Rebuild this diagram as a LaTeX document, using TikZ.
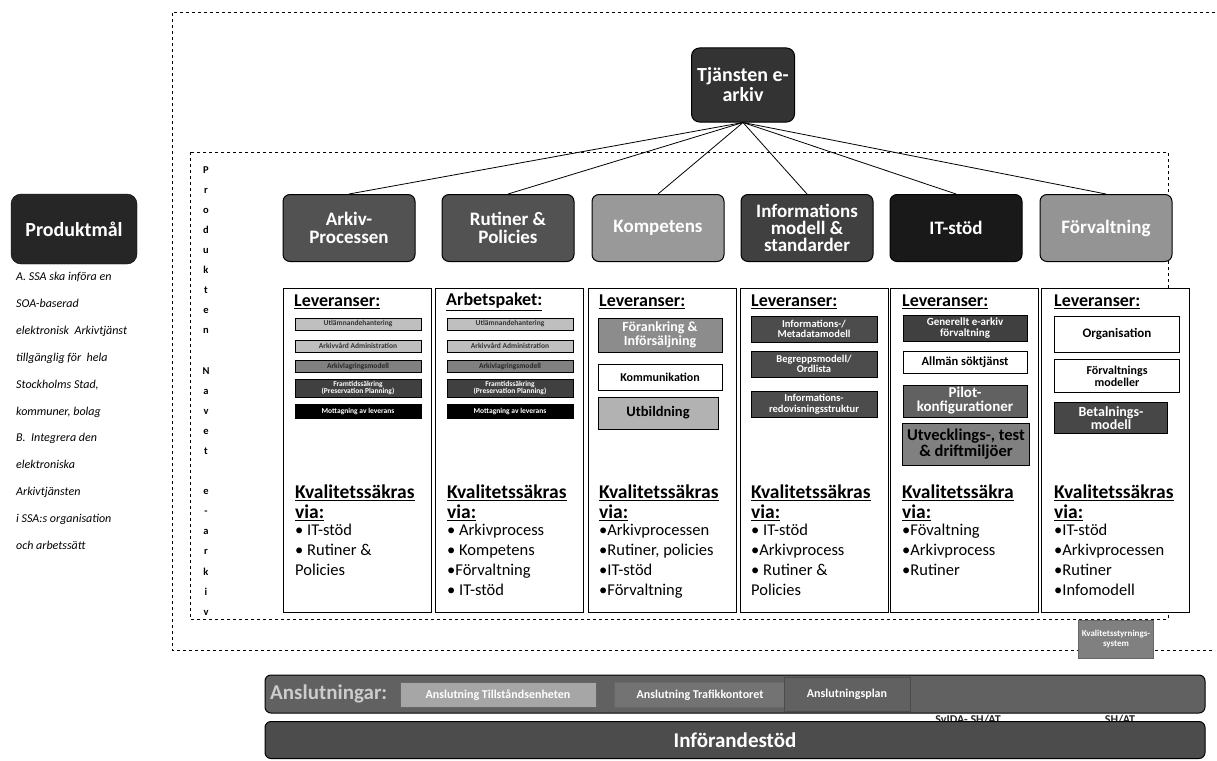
\documentclass[tikz,border=0pt]{standalone}
\usepackage{fontspec}
\setmainfont{Carlito}
\begin{document}
\begin{tikzpicture}[x=1pt,y=-1pt,
  hdr/.style={rounded corners=7pt, draw=black, line width=1pt, minimum width=132pt, minimum height=67pt, align=center, text=white, inner sep=2pt, font=\bfseries\fontsize{19}{18.5}\selectfont},
  colbox/.style={draw=black, line width=1pt, fill=white, minimum width=148pt, minimum height=324pt, anchor=north west},
  sb/.style={draw=black, line width=0.6pt, minimum width=126pt, align=center, inner sep=1pt, font=\bfseries\fontsize{7.5}{7.5}\selectfont},
  mb/.style={draw=black, line width=0.8pt, minimum width=124pt, align=center, inner sep=1pt},
  lev/.style={anchor=west, inner sep=0pt, font=\bfseries\fontsize{18}{18}\selectfont},
  kv/.style={anchor=north west, inner sep=0pt, align=left, font=\bfseries\fontsize{19.5}{20}\selectfont},
  lst/.style={anchor=north west, inner sep=0pt, align=left, font=\fontsize{16.5}{20}\selectfont},
  conn/.style={draw=black, line width=0.8pt},
  dashframe/.style={draw=black, line width=0.9pt, dashed}
]
\useasboundingbox[fill=white] (0,0) rectangle (1217,760);

% outer and inner dashed frames
\draw[dashframe] (1215,12) -- (172,12) -- (172,650) -- (1215,650);
\draw[dashframe] (190,152) rectangle (1168,619);

% left side
\node[rounded corners=10pt, draw=black, fill=black!85, minimum width=126pt, minimum height=70pt, text=white, font=\bfseries\fontsize{20}{20}\selectfont] (pm) at (74,229) {Produktmål};
\node[anchor=north west, align=left, inner sep=0pt, font=\itshape\fontsize{12}{26.9}\selectfont] (pmtext) at (16,272) {A. SSA ska införa en\\SOA-baserad\\elektronisk\ \ Arkivtjänst\\tillgänglig för\ \ hela\\Stockholms Stad,\\kommuner, bolag\\B.\ \ Integrera den\\elektroniska\\Arkivtjänsten\\i SSA:s organisation\\och arbetssätt};

% vertical text
\node[anchor=north, align=center, inner sep=0pt, font=\bfseries\fontsize{10.5}{20.1}\selectfont] (vt) at (206,166) {P\\r\\o\\d\\u\\k\\t\\e\\n\\\mbox{}\\N\\a\\v\\e\\t\\\mbox{}\\e\\-\\a\\r\\k\\i\\v};

% top node
\node[hdr, fill=black!80, minimum width=103pt, minimum height=74pt, rounded corners=8pt, font=\bfseries\fontsize{20}{20}\selectfont] (tj) at (743,85) {Tjänsten e-\\arkiv};

% headers
\node[hdr, fill=black!68] (h1) at (349,228) {Arkiv-\\Processen};
\node[hdr, fill=black!68] (h2) at (508,228) {Rutiner \&\\Policies};
\node[hdr, fill=black!40] (h3) at (658,228) {Kompetens};
\node[hdr, fill=black!75, font=\bfseries\fontsize{19}{17}\selectfont] (h4) at (807,228) {Informations\\modell \&\\standarder};
\node[hdr, fill=black!90] (h5) at (956,228) {IT-stöd};
\node[hdr, fill=black!42] (h6) at (1106,228) {Förvaltning};

\foreach \h in {h1,h2,h3,h4,h5,h6} \draw[conn] (tj.south) -- (\h.north);

% column boxes
\node[colbox] (c1) at (283,288) {};
\node[colbox] (c2) at (435,288) {};
\node[colbox] (c3) at (588,288) {};
\node[colbox] (c4) at (740,288) {};
\node[colbox] (c5) at (890,288) {};
\node[colbox] (c6) at (1041,288) {};

% column 1
\node[lev] (l1) at (294,302) {\underline{Leveranser:}};
\node[sb, fill=black!25, minimum height=12pt, text=black!80] (b11) at (358,324) {Utlämnandehantering};
\node[sb, fill=black!25, minimum height=12pt, text=black!80] (b12) at (358,346) {Arkivvård Administration};
\node[sb, fill=black!50, minimum height=12pt, text=black!85] (b13) at (358,366) {Arkivlagringsmodell};
\node[sb, fill=black!75, minimum height=18pt, text=white] (b14) at (358,388) {Framtidssäkring\\(Preservation Planning)};
\node[sb, fill=black, minimum height=14pt, text=white] (b15) at (358,411) {Mottagning av leverans};
\node[kv] (k1) at (295,485) {\underline{Kvalitetssäkras}\\\underline{via:}};
\node[lst] (s1) at (295,524) {• IT-stöd\\• Rutiner \&\\Policies};

% column 2
\node[lev] (l2) at (446,302) {\underline{Arbetspaket:}};
\node[sb, fill=black!25, minimum height=12pt, text=black!80] (b21) at (510,324) {Utlämnandehantering};
\node[sb, fill=black!25, minimum height=12pt, text=black!80] (b22) at (510,346) {Arkivvård Administration};
\node[sb, fill=black!50, minimum height=12pt, text=black!85] (b23) at (510,366) {Arkivlagringsmodell};
\node[sb, fill=black!75, minimum height=18pt, text=white] (b24) at (510,388) {Framtidssäkring\\(Preservation Planning)};
\node[sb, fill=black, minimum height=14pt, text=white] (b25) at (510,411) {Mottagning av leverans};
\node[kv] (k2) at (447,485) {\underline{Kvalitetssäkras}\\\underline{via:}};
\node[lst] (s2) at (447,524) {• Arkivprocess\\• Kompetens\\•Förvaltning\\• IT-stöd};

% column 3
\node[lev] (l3) at (599,302) {\underline{Leveranser:}};
\node[mb, fill=black!45, minimum height=34pt, text=white, font=\bfseries\fontsize{14}{14}\selectfont] (b31) at (660,335) {Förankring \&\\Införsäljning};
\node[mb, fill=white, minimum height=26pt, font=\bfseries\fontsize{12}{12}\selectfont] (b32) at (660,377) {Kommunikation};
\node[mb, fill=black!30, minimum height=32pt, minimum width=120pt, font=\bfseries\fontsize{14.5}{14.5}\selectfont] (b33) at (658,413) {Utbildning};
\node[kv] (k3) at (599,485) {\underline{Kvalitetssäkras}\\\underline{via:}};
\node[lst] (s3) at (599,524) {•Arkivprocessen\\•Rutiner, policies\\•IT-stöd\\•Förvaltning};

% column 4
\node[lev] (l4) at (751,302) {\underline{Leveranser:}};
\node[mb, fill=black!70, minimum width=126pt, minimum height=26pt, text=white, font=\bfseries\fontsize{10.5}{10.5}\selectfont] (b41) at (814,329) {Informations-/\\Metadatamodell};
\node[mb, fill=black!70, minimum width=126pt, minimum height=26pt, text=white, font=\bfseries\fontsize{10.5}{10.5}\selectfont] (b42) at (814,364) {Begreppsmodell/\\Ordlista};
\node[mb, fill=black!70, minimum width=126pt, minimum height=26pt, text=white, font=\bfseries\fontsize{10.5}{10.5}\selectfont] (b43) at (814,404) {Informations-\\redovisningsstruktur};
\node[kv] (k4) at (751,485) {\underline{Kvalitetssäkras}\\\underline{via:}};
\node[lst] (s4) at (751,524) {• IT-stöd\\•Arkivprocess\\• Rutiner \&\\Policies};

% column 5
\node[lev] (l5) at (902,302) {\underline{Leveranser:}};
\node[mb, fill=black!75, minimum height=26pt, text=white, font=\bfseries\fontsize{11}{11}\selectfont] (b51) at (965,328) {Generellt e-arkiv\\förvaltning};
\node[mb, fill=white, minimum height=22pt, font=\bfseries\fontsize{12.5}{12.5}\selectfont] (b52) at (965,362) {Allmän söktjänst};
\node[mb, fill=black!62, minimum height=32pt, text=white, font=\bfseries\fontsize{15}{14}\selectfont] (b53) at (965,401) {Pilot-\\konfigurationer};
\node[mb, fill=black!50, minimum height=42pt, minimum width=127pt, font=\bfseries\fontsize{16.5}{16}\selectfont] (b54) at (966,444) {Utvecklings-, test\\\& driftmiljöer};
\node[kv] (k5) at (902,485) {\underline{Kvalitetssäkra}\\\underline{via:}};
\node[lst] (s5) at (902,524) {•Fövaltning\\•Arkivprocess\\•Rutiner};

% column 6
\node[lev] (l6) at (1054,302) {\underline{Leveranser:}};
\node[mb, fill=white, minimum width=125pt, minimum height=36pt, font=\bfseries\fontsize{13}{13}\selectfont] (b61) at (1117,334) {Organisation};
\node[mb, fill=white, minimum width=125pt, minimum height=33pt, font=\bfseries\fontsize{12}{12}\selectfont] (b62) at (1117,376) {Förvaltnings\\modeller};
\node[mb, fill=black!72, minimum width=113pt, minimum height=31pt, text=white, font=\bfseries\fontsize{14}{13}\selectfont] (b63) at (1111,418) {Betalnings-\\modell};
\node[kv] (k6) at (1054,485) {\underline{Kvalitetssäkras}\\\underline{via:}};
\node[lst] (s6) at (1054,524) {•IT-stöd\\•Arkivprocessen\\•Rutiner\\•Infomodell};

% quality system box
\node[draw=black!60, line width=0.8pt, fill=black!50, minimum width=68pt, minimum height=38pt, align=center, text=white, font=\bfseries\fontsize{9}{9.5}\selectfont] (kss) at (1116,639) {Kvalitetsstyrnings-\\system};

% bottom bars
\node[draw=black, line width=1pt, rounded corners=6pt, fill=black!62, minimum width=940pt, minimum height=38pt] (ansl) at (735,694) {};
\node[anchor=west, inner sep=0pt, text=black!20, font=\bfseries\fontsize{21}{21}\selectfont] (anslt) at (270,694) {Anslutningar:};
\node[draw=black!60, fill=black!35, minimum width=196pt, minimum height=25pt, text=white, font=\bfseries\fontsize{12}{12}\selectfont] (a1) at (498,695) {Anslutning Tillståndsenheten};
\node[draw=black!60, fill=black!55, minimum width=172pt, minimum height=25pt, text=white, font=\bfseries\fontsize{12}{12}\selectfont] (a2) at (700,695) {Anslutning Trafikkontoret};
\node[draw=black!70, fill=black!62, minimum width=126pt, minimum height=34pt, text=white, font=\bfseries\fontsize{12}{12}\selectfont] (a3) at (847,694) {Anslutningsplan};
\node[inner sep=0pt, text=black!85, font=\bfseries\fontsize{12}{12}\selectfont] (sv1) at (968,720) {SvIDA- SH/AT};
\node[inner sep=0pt, text=black!85, font=\bfseries\fontsize{12}{12}\selectfont] (sv2) at (1120,720) {SH/AT};
\node[draw=black, line width=1pt, rounded corners=6pt, fill=black!70, minimum width=940pt, minimum height=37pt, text=white, font=\bfseries\fontsize{21}{21}\selectfont] (inf) at (735,740) {Införandestöd};
\end{tikzpicture}
\end{document}
